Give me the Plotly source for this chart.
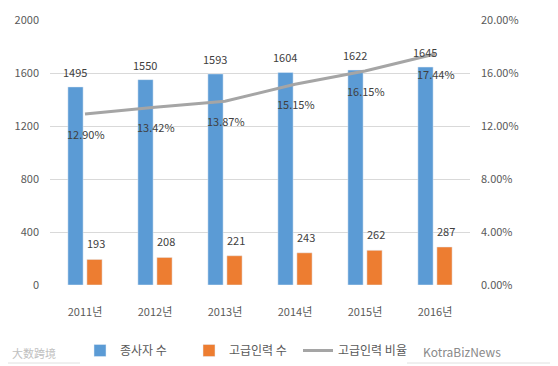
import plotly.graph_objects as go

years = ["2011년", "2012년", "2013년", "2014년", "2015년", "2016년"]
employees = [1495, 1550, 1593, 1604, 1622, 1645]
skilled = [193, 208, 221, 243, 262, 287]
ratio = [0.1290, 0.1342, 0.1387, 0.1515, 0.1615, 0.1744]
ratio_labels = ["12.90%", "13.42%", "13.87%", "15.15%", "16.15%", "17.44%"]

FONT = "Noto Sans CJK KR"
TXT = "#404040"
TICK = "#595959"

# page body has an 8px margin; figure is sized to fit the 558x366 window
W, H = 550, 358
OFF = 8

fig = go.Figure()
fig.add_trace(go.Bar(x=years, y=employees, name="종사자 수", marker_color="#5b9bd5"))
fig.add_trace(go.Bar(x=years, y=skilled, name="고급인력 수", marker_color="#ed7d31"))
fig.add_trace(go.Scatter(x=years, y=ratio, name="고급인력 비율", yaxis="y2", mode="lines",
                         line=dict(color="#a5a5a5", width=3)))

annotations = []
lab_font = dict(color=TXT, size=11, family=FONT)
for yr, v in zip(years, employees):
    annotations.append(dict(x=yr, y=v, xref="x", yref="y", text=str(v), showarrow=False,
                            xshift=-10, yshift=15, font=lab_font))
for yr, v in zip(years, skilled):
    annotations.append(dict(x=yr, y=v, xref="x", yref="y", text=str(v), showarrow=False,
                            xshift=11, yshift=16, font=lab_font))
for yr, v, t in zip(years, ratio, ratio_labels):
    annotations.append(dict(x=yr, y=v, xref="x", yref="y2", text=t, showarrow=False,
                            xshift=1, yshift=-20, font=lab_font))
annotations += [
    dict(text="KotraBizNews", xref="paper", yref="paper", x=(503 - 50) / 420,
         y=-(351 - 285) / 265, xanchor="right", yanchor="middle", showarrow=False,
         font=dict(size=12, color="#8a8a8a", family=FONT)),
    dict(text="大数跨境", xref="paper", yref="paper", x=(10 - 50) / 420,
         y=-(353 - 285) / 265, xanchor="left", yanchor="middle", showarrow=False,
         font=dict(size=11, color="#c0c0c0", family="Noto Sans CJK SC")),
]

fig.update_layout(
    width=W, height=H,
    margin=dict(l=50 - OFF, r=88, t=20 - OFF, b=81, autoexpand=False),
    paper_bgcolor="white", plot_bgcolor="white",
    font=dict(family=FONT, color=TICK, size=11),
    barmode="group", bargap=0.457, bargroupgap=0.2,
    xaxis=dict(showgrid=False, showline=False, ticks="", ticklabelstandoff=19,
               tickfont=dict(size=11, color=TICK), automargin=False),
    yaxis=dict(range=[0, 2000], tickvals=[0, 400, 800, 1200, 1600, 2000],
               gridcolor="#d9d9d9", gridwidth=1, zeroline=False, showline=False,
               ticklabelstandoff=10, tickfont=dict(size=11, color=TICK), automargin=False),
    yaxis2=dict(range=[0, 0.2], overlaying="y", side="right",
                tickvals=[0, 0.04, 0.08, 0.12, 0.16, 0.2],
                ticktext=["0.00%", "4.00%", "8.00%", "12.00%", "16.00%", "20.00%"],
                showgrid=False, zeroline=False, showline=False,
                ticklabelstandoff=10, tickfont=dict(size=11, color=TICK), automargin=False),
    legend=dict(orientation="h", xref="container", yref="container",
                x=(80 - OFF) / W, xanchor="left", y=1 - (336 - OFF) / H, yanchor="top",
                font=dict(size=12, color=TICK, family=FONT), itemwidth=30,
                entrywidth=64, traceorder="normal"),
    shapes=[dict(type="rect", xref="paper", yref="paper",
                 x0=-47 / 420, x1=(552 - 50) / 420, y0=-78 / 265, y1=1 + 17 / 265,
                 line=dict(color="#e0e0e0", width=1), layer="below")],
    annotations=annotations,
)

fig.write_html("out.html")
